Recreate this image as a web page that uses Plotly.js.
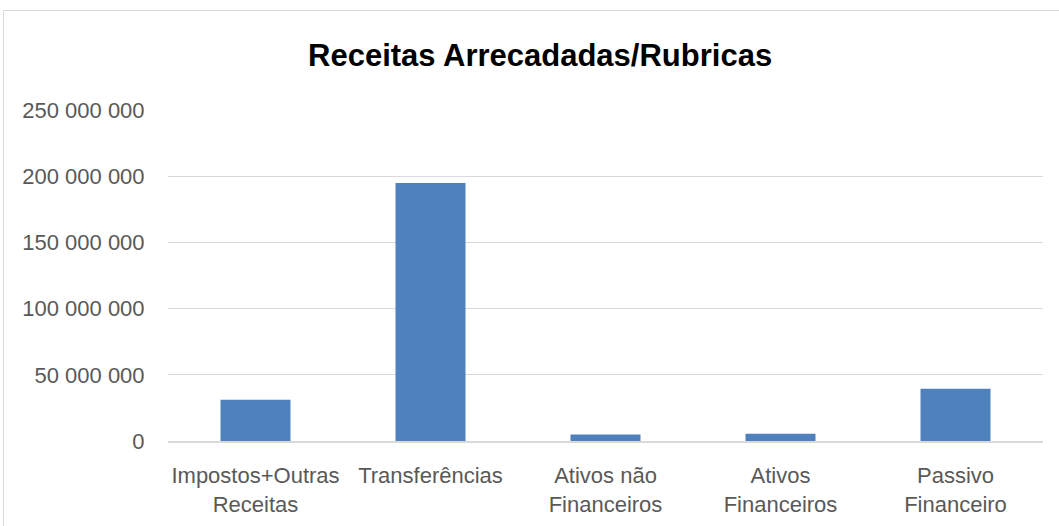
<!DOCTYPE html>
<html>
<head>
<meta charset="utf-8">
<script src="https://cdn.plot.ly/plotly-3.0.1.min.js"></script>
<style>
  html, body { margin: 0; padding: 0; background: #fff; overflow: hidden; }
  #frame { position: absolute; left: 3px; top: 10px; width: 1200px; height: 700px; border: 1px solid #d9d9d9; pointer-events: none; }
  #chart { position: absolute; left: 0; top: 0; width: 1059px; height: 526px; }
</style>
</head>
<body>
<div id="chart"></div>
<div id="frame"></div>
<script>
const categories = [
  "Impostos+Outras<br>Receitas",
  "Transferências",
  "Ativos não<br>Financeiros",
  "Ativos<br>Financeiros",
  "Passivo<br>Financeiro"
];
const values = [31200000, 194900000, 4900000, 5400000, 39500000];
const yTicks = [0, 50000000, 100000000, 150000000, 200000000, 250000000];
const titleText = "Receitas Arrecadadas/Rubricas";

const font = "Liberation Sans, Arial, sans-serif";

Plotly.newPlot("chart", [{
  type: "bar",
  x: categories,
  y: values,
  marker: { color: "#4F81BD" },
  hoverinfo: "none"
}], {
  width: 1059,
  height: 526,
  separators: ", ",
  paper_bgcolor: "#ffffff",
  plot_bgcolor: "#ffffff",
  margin: { l: 168, r: 16, t: 110, b: 85 },
  bargap: 0.6,
  showlegend: false,
  title: {
    text: "<b>" + titleText + "</b>",
    font: { family: font, size: 31, color: "#000000" },
    x: 0.51, xanchor: "center",
    y: 0.895, yanchor: "middle"
  },
  xaxis: {
    type: "category",
    showgrid: false,
    showline: true,
    linecolor: "#d9d9d9",
    linewidth: 2,
    ticks: "outside",
    ticklen: 14,
    tickcolor: "rgba(0,0,0,0)",
    tickfont: { family: font, size: 22, color: "#595959" },
    fixedrange: true
  },
  yaxis: {
    range: [0, 250000000],
    tickvals: yTicks,
    tickformat: ",.0f",
    showgrid: true,
    gridcolor: "#d9d9d9",
    gridwidth: 1,
    zeroline: false,
    showline: false,
    ticks: "outside",
    ticklen: 18,
    tickcolor: "rgba(0,0,0,0)",
    tickfont: { family: font, size: 22, color: "#595959" },
    fixedrange: true
  }
}, { displayModeBar: false, staticPlot: true });
</script>
</body>
</html>
